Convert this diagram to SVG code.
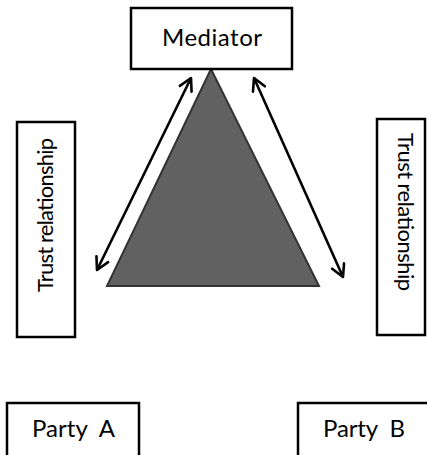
<svg xmlns="http://www.w3.org/2000/svg" width="427" height="455" viewBox="0 0 427 455">
<style>
.box{fill:#fff;stroke:#000;stroke-width:2.5}
.lbl{font-family:Lato,"Open Sans",sans-serif;font-size:24px;fill:#000}
.trust{font-size:22px}
.conn{stroke:#000;stroke-width:2.6;fill:none;marker-start:url(#ah);marker-end:url(#ah)}
</style>
<defs>
<marker id="ah" viewBox="0 0 16 16" refX="14" refY="8" markerWidth="16" markerHeight="16" markerUnits="userSpaceOnUse" orient="auto-start-reverse">
<path d="M2,1.5 L14,8 L2,14.5" fill="none" stroke="#000" stroke-width="2.6" stroke-linecap="round" stroke-linejoin="round"/>
</marker>
</defs>
<rect width="427" height="455" fill="#fff"/>
<g id="triangle">
<polygon points="211,69 107,286 319,286" fill="#616161" stroke="#333" stroke-width="2"/>
</g>
<g id="mediator">
<rect class="box" x="131" y="8" width="161" height="61"/>
<text class="lbl" x="212" y="46" text-anchor="middle" textLength="100">Mediator</text>
</g>
<g id="trust-left">
<rect class="box" x="17" y="122" width="58" height="215"/>
<text class="lbl trust" transform="translate(53,215) rotate(-90)" text-anchor="middle" textLength="154">Trust relationship</text>
</g>
<g id="trust-right">
<rect class="box" x="377" y="119" width="48" height="216"/>
<text class="lbl trust" transform="translate(398,212) rotate(90)" text-anchor="middle" textLength="158">Trust relationship</text>
</g>
<g id="party-a">
<rect class="box" x="7" y="403" width="132" height="60"/>
<text class="lbl" x="73.5" y="437" text-anchor="middle" textLength="83" xml:space="preserve">Party  A</text>
</g>
<g id="party-b">
<rect class="box" x="298" y="403" width="140" height="60"/>
<text class="lbl" x="364" y="437" text-anchor="middle" textLength="82" xml:space="preserve">Party  B</text>
</g>
<g id="connectors">
<line class="conn" x1="97" y1="270" x2="191" y2="78"/>
<line class="conn" x1="343" y1="277" x2="254" y2="78"/>
</g>
</svg>
